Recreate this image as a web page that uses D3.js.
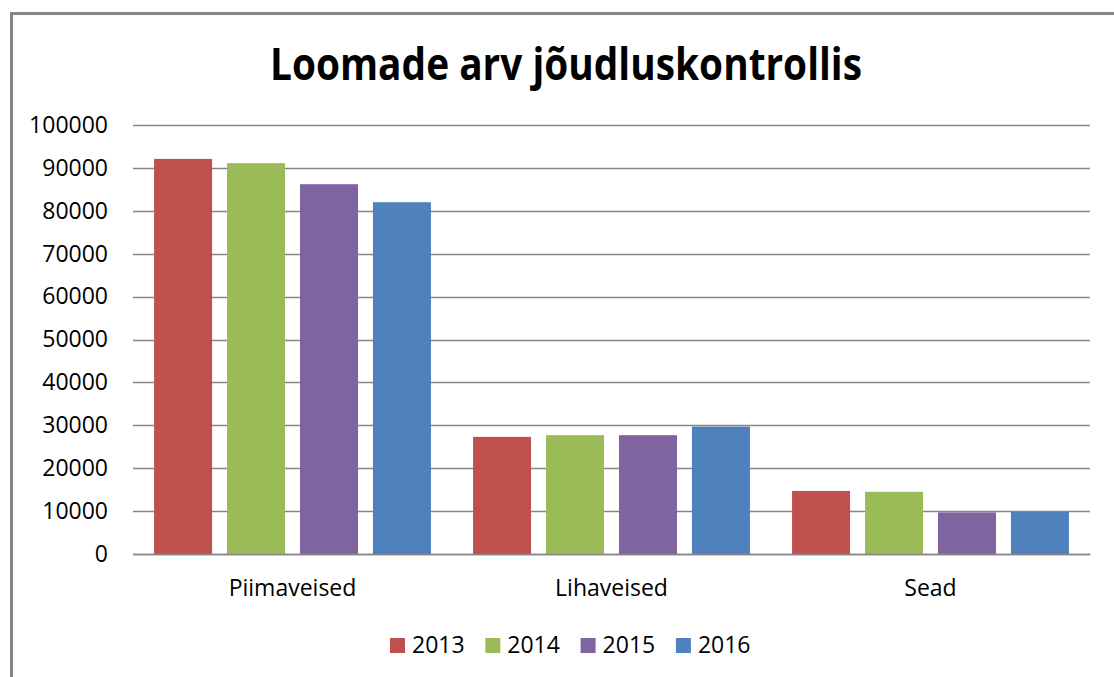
<!DOCTYPE html>
<html>
<head>
<meta charset="utf-8">
<script src="https://cdn.jsdelivr.net/npm/d3@7"></script>
<style>
  body { margin: 0; background: #fff; }
  text { font-family: "Open Sans", sans-serif; fill: #000; }
</style>
</head>
<body>
<div id="graph"></div>
<script>
// data
var categories = ["Piimaveised", "Lihaveised", "Sead"];
var years = ["2013", "2014", "2015", "2016"];
var colors = ["#c0504d", "#9bbb59", "#8064a2", "#4f81bd"];
var v2013 = [92100, 27300, 14700];
var v2014 = [91100, 27700, 14500];
var v2015 = [86200, 27700, 9700];
var v2016 = [82000, 29700, 9800];
var yTicks = [0, 10000, 20000, 30000, 40000, 50000, 60000, 70000, 80000, 90000, 100000];

var series = [v2013, v2014, v2015, v2016];

var W = 1114, H = 677;
var margin = {left: 133, right: 24, top: 125, bottom: 123};

var svg = d3.select("#graph").append("svg")
    .attr("width", W)
    .attr("height", H);

// outer frame (cut off on right and bottom like the original)
svg.append("rect")
    .attr("x", 11.5).attr("y", 13.5)
    .attr("width", 1200).attr("height", 800)
    .style("fill", "#fff")
    .style("stroke", "#868686")
    .style("stroke-width", 3);

var g = svg.append("g")
    .attr("transform", "translate(" + margin.left + "," + margin.top + ")");

var w = W - margin.left - margin.right;   // 957
var h = H - margin.top - margin.bottom;   // 429

var x0 = d3.scaleBand().domain(categories).range([0, w])
    .paddingInner(0.132).paddingOuter(0.066);
var x1 = d3.scaleBand().domain(years).range([0, x0.bandwidth()])
    .paddingInner(0.205);
var y = d3.scaleLinear().domain([0, 100000]).range([h, 0]);

// gridlines
g.selectAll(".grid").data(yTicks).enter().append("line")
    .attr("x1", 0).attr("x2", w)
    .attr("y1", function(d) { return Math.round(y(d)) + 0.5; })
    .attr("y2", function(d) { return Math.round(y(d)) + 0.5; })
    .style("stroke", "#868686")
    .style("stroke-width", 1.5);

// y axis labels
var yAxis = g.append("g")
    .call(d3.axisLeft(y).tickValues(yTicks).tickSize(0).tickPadding(25).tickFormat(d3.format("d")));
yAxis.select(".domain").remove();
yAxis.selectAll("text")
    .style("font-family", "'Open Sans', sans-serif")
    .style("font-size", "23px")
    .attr("fill", "#000");

// bars
var groups = g.selectAll(".cat").data(categories).enter().append("g")
    .attr("transform", function(d) { return "translate(" + x0(d) + ",0)"; });

groups.selectAll("rect")
    .data(function(c, ci) {
        return years.map(function(yr, si) { return {year: yr, value: series[si][ci], color: colors[si]}; });
    })
    .enter().append("rect")
    .attr("x", function(d) { return x1(d.year); })
    .attr("width", x1.bandwidth())
    .attr("y", function(d) { return y(d.value); })
    .attr("height", function(d) { return h - y(d.value); })
    .style("fill", function(d) { return d.color; });

// x axis
var xAxis = g.append("g")
    .attr("transform", "translate(0," + h + ")")
    .call(d3.axisBottom(x0).tickSize(0).tickPadding(26));
xAxis.select(".domain").style("stroke", "#868686").style("stroke-width", 1.5);
xAxis.selectAll("text")
    .style("font-family", "'Open Sans', sans-serif")
    .style("font-size", "23px")
    .attr("fill", "#000");

// title
svg.append("text")
    .attr("x", 566).attr("y", 80)
    .attr("text-anchor", "middle")
    .attr("textLength", 592)
    .attr("lengthAdjust", "spacingAndGlyphs")
    .style("font-size", "44px")
    .style("font-weight", "bold")
    .text("Loomade arv jõudluskontrollis");

// legend
var legend = svg.append("g").attr("transform", "translate(390,638)");
var item = legend.selectAll(".item").data(years).enter().append("g")
    .attr("transform", function(d, i) { return "translate(" + (i * 95.3) + ",0)"; });
item.append("rect")
    .attr("width", 15).attr("height", 15)
    .style("fill", function(d, i) { return colors[i]; });
item.append("text")
    .attr("x", 22).attr("y", 15)
    .style("font-size", "23px")
    .text(function(d) { return d; });
</script>
</body>
</html>
